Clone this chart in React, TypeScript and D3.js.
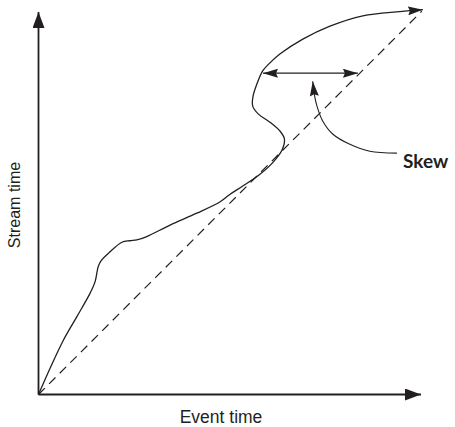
import React from "react";
import * as d3 from "d3";

// Axis extent (event time, stream time), in arbitrary units
const axisMax = [100, 100];

// Observed stream: [event time, stream time]
const streamCurve: [number, number][] = [
  [0, 0], [3.0, 6.8], [6.5, 14.2], [10.0, 20.3], [13.5, 26.5], [14.8, 29.5],
  [15.6, 33.4], [16.3, 34.9], [18.7, 37.3], [21.8, 39.8], [23.9, 40.2],
  [25.7, 40.4], [28.3, 41.3], [34.4, 44.3], [41.4, 47.4], [47.5, 50.4],
  [50.0, 52.3], [53.4, 54.5], [57.9, 57.6], [61.3, 60.7],
  [63.7, 64.0], [64.3, 66.8], [63.1, 68.9], [60.5, 71.2], [57.5, 73.3],
  [56.0, 75.4], [56.1, 78.0], [57.3, 81.7], [58.6, 84.6], [59.9, 86.1],
  [63.1, 89.0], [69.1, 92.9], [76.2, 96.3], [84.8, 99.0], [94.5, 100.1],
  [100.5, 100.6],
];

// Ideal: stream time == event time
const idealLine: [number, number][] = [[0, 0], [100.2, 100.2]];

// Skew measurement (horizontal gap at stream time 84)
const skewY = 84.0;
const skewFrom = 58.7;
const skewTo = 83.5;

// Callout from the "Skew" label to the measurement arrow
const calloutPath: [number, number][] = [
  [93.7, 63.1], [86.6, 63.6], [81.4, 65.4], [76.9, 68.1], [74.3, 71.5],
  [72.8, 75.4], [72.2, 78.0], [71.7, 81.9],
];

const labels = { x: "Event time", y: "Stream time", skew: "Skew" };
const skewLabelPos: [number, number] = [95.3, 59.2];

const W = 455;
const H = 427;
const ink = "#231f20";

export default function App() {
  const x = d3.scaleLinear().domain([0, axisMax[0]]).range([38.5, 421]);
  const y = d3.scaleLinear().domain([0, axisMax[1]]).range([394.5, 12]);

  const curve = d3
    .line<[number, number]>()
    .x((d) => x(d[0]))
    .y((d) => y(d[1]))
    .curve(d3.curveCatmullRom.alpha(0.5));
  const straight = d3
    .line<[number, number]>()
    .x((d) => x(d[0]))
    .y((d) => y(d[1]));

  return (
    <svg
      width={W}
      height={H}
      style={{ position: "absolute", left: 0, top: 0, background: "#fff" }}
    >
      <defs>
        <marker id="axisHead" viewBox="0 0 16 12" refX="16" refY="6"
          markerWidth="16" markerHeight="12" markerUnits="userSpaceOnUse" orient="auto">
          <path d="M0,0 L16,6 L0,12 Z" fill={ink} />
        </marker>
        <marker id="head" viewBox="0 0 15 9" refX="15" refY="4.5"
          markerWidth="15" markerHeight="9" markerUnits="userSpaceOnUse" orient="auto">
          <path d="M0,0 L15,4.5 L0,9 L2,4.5 Z" fill={ink} />
        </marker>
        <marker id="headStart" viewBox="0 0 15 9" refX="15" refY="4.5"
          markerWidth="15" markerHeight="9" markerUnits="userSpaceOnUse" orient="auto-start-reverse">
          <path d="M0,0 L15,4.5 L0,9 L2,4.5 Z" fill={ink} />
        </marker>
      </defs>

      {/* axes */}
      <path d={straight([[0, 0], [axisMax[0], 0]])!} stroke={ink} strokeWidth={1.8}
        fill="none" markerEnd="url(#axisHead)" />
      <path d={straight([[0, 0], [0, axisMax[1]]])!} stroke={ink} strokeWidth={1.8}
        fill="none" markerEnd="url(#axisHead)" />

      {/* ideal dashed line */}
      <path d={straight(idealLine)!} stroke={ink} strokeWidth={1.2}
        strokeDasharray="9,6" fill="none" />

      {/* observed curve */}
      <path d={curve(streamCurve)!} stroke={ink} strokeWidth={1.3}
        fill="none" markerEnd="url(#head)" />

      {/* skew measurement */}
      <path d={straight([[skewFrom, skewY], [skewTo, skewY]])!} stroke={ink}
        strokeWidth={1.3} fill="none" markerStart="url(#headStart)" markerEnd="url(#head)" />

      {/* callout */}
      <path d={curve(calloutPath)!} stroke={ink} strokeWidth={1.1}
        fill="none" markerEnd="url(#head)" />

      <text x={x(skewLabelPos[0])} y={y(skewLabelPos[1])} fontFamily="Lato"
        fontWeight={700} fontSize={19} fill={ink}>
        {labels.skew}
      </text>

      <text x={221} y={423} textAnchor="middle" fontFamily="'Liberation Sans'"
        fontSize={17.5} fill={ink}>
        {labels.x}
      </text>
      <text transform="translate(20,205) rotate(-90)" textAnchor="middle"
        fontFamily="'Liberation Sans'" fontSize={16} fill={ink}>
        {labels.y}
      </text>
    </svg>
  );
}
